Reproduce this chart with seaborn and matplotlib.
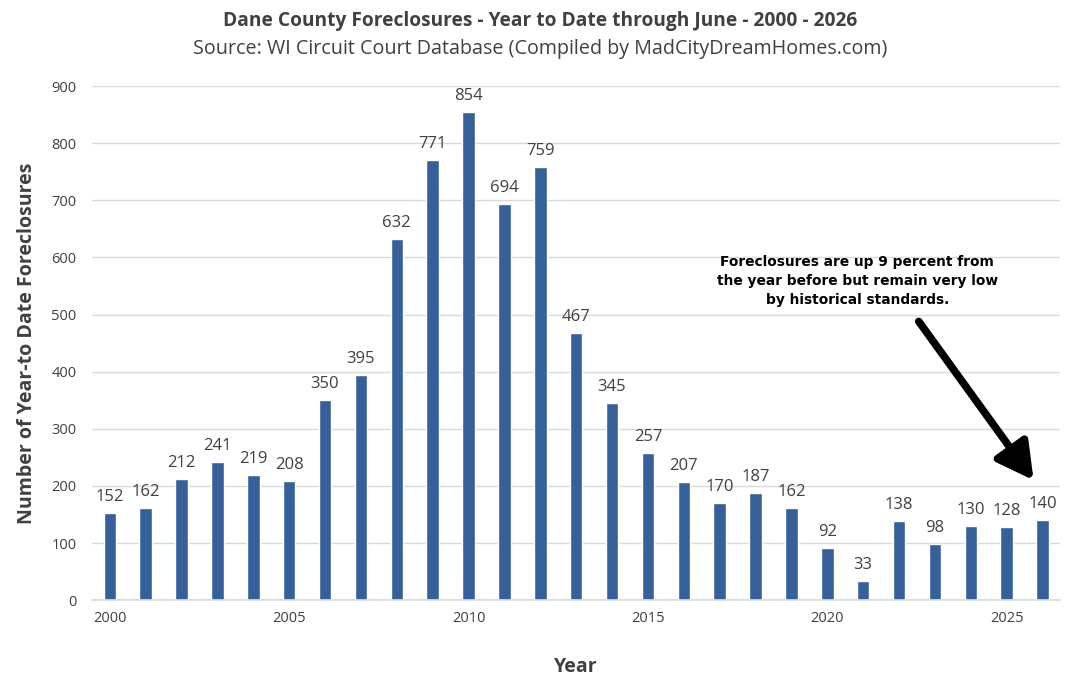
import numpy as np
import pandas as pd
import matplotlib
matplotlib.use('Agg')
import matplotlib.pyplot as plt
import seaborn as sns

years = list(range(2000, 2027))
foreclosures = [152, 162, 212, 241, 219, 208, 350, 395, 632, 771, 854, 694, 759,
                467, 345, 257, 207, 170, 187, 162, 92, 33, 138, 98, 130, 128, 140]
tick_years = [2000, 2005, 2010, 2015, 2020, 2025]
y_ticks = list(range(0, 1000, 100))

TITLE = 'Dane County Foreclosures - Year to Date through June - 2000 - 2026'
SUBTITLE = 'Source: WI Circuit Court Database (Compiled by MadCityDreamHomes.com)'
NOTE = ('Foreclosures are up 9 percent from\n'
        'the year before but remain very low\n'
        'by historical standards.')

BAR_COLOR = '#36609A'
TEXT_COLOR = '#404040'

df = pd.DataFrame({'Year': years, 'Foreclosures': foreclosures})

sns.set_theme(style='white')
plt.rcParams['font.family'] = ['Open Sans', 'DejaVu Sans']

fig = plt.figure(figsize=(10.81, 6.89), dpi=100)
ax = fig.add_axes([0.085, 0.129, 0.896, 0.746])

sns.barplot(data=df, x='Year', y='Foreclosures', native_scale=True,
            color=BAR_COLOR, width=0.35, saturation=1, ax=ax)

# value labels above each bar
for yr, val in zip(years, foreclosures):
    ax.text(yr, val + 14, str(val), ha='center', va='bottom',
            fontsize=12, color=TEXT_COLOR)

ax.set_xlim(years[0] - 0.5, years[-1] + 0.5)
ax.set_ylim(0, 900)
ax.set_yticks(y_ticks)
ax.set_xticks(tick_years)
ax.tick_params(axis='both', length=0, labelsize=10.5, labelcolor=TEXT_COLOR)
ax.tick_params(axis='x', pad=8)
ax.tick_params(axis='y', pad=11)
ax.yaxis.grid(True, color='#d9d9d9', linewidth=1)
ax.set_axisbelow(True)
for side in ['top', 'right', 'left']:
    ax.spines[side].set_visible(False)
ax.spines['bottom'].set_color('#d9d9d9')

ax.set_xlabel('Year', fontsize=14, fontweight='bold', color=TEXT_COLOR, labelpad=22)
ax.set_ylabel('Number of Year-to Date Foreclosures', fontsize=14,
              fontweight='bold', color=TEXT_COLOR, labelpad=10)

fig.text(0.5, 0.969, TITLE, ha='center', va='center', fontsize=13.8,
         fontweight='bold', color=TEXT_COLOR)
fig.text(0.5, 0.929, SUBTITLE, ha='center', va='center', fontsize=14.2,
         color=TEXT_COLOR)

ax.text(2020.84, 558, NOTE, ha='center', va='center', fontsize=9.9,
        fontweight='bold', color='black', family='DejaVu Sans', linespacing=1.45)

ax.annotate('', xy=(2025.75, 210), xytext=(2022.55, 488),
            arrowprops=dict(arrowstyle='-|>,head_width=0.6,head_length=1.1',
                            mutation_scale=20, color='black', lw=5.5,
                            shrinkA=0, shrinkB=0))

fig.savefig('out.png', dpi=100)
